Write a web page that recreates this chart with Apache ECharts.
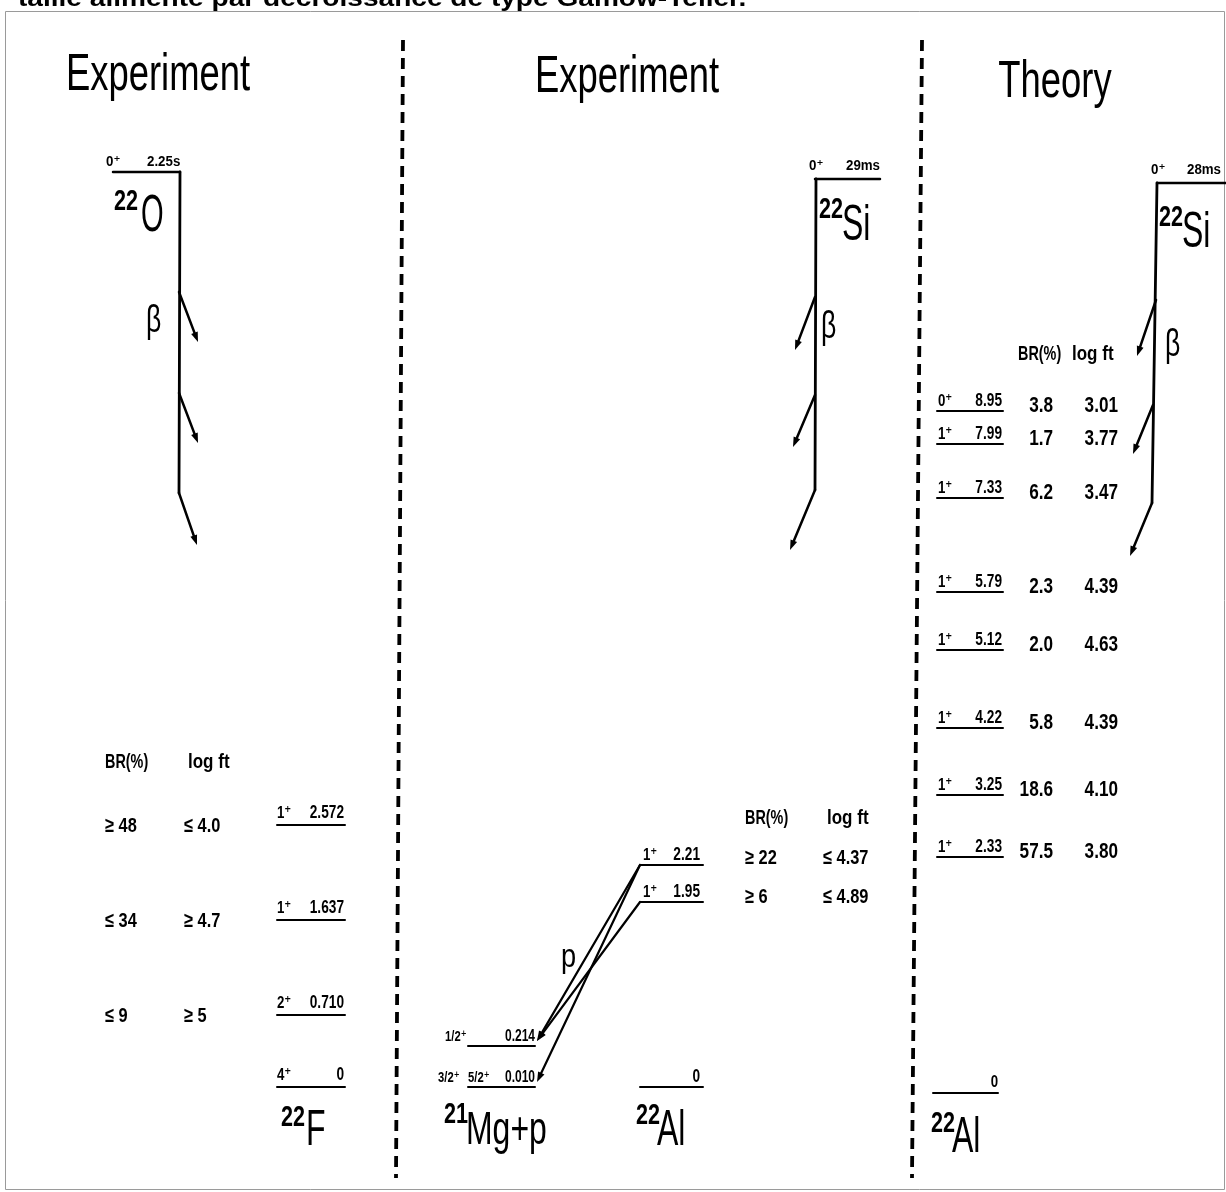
<!DOCTYPE html>
<html><head><meta charset="utf-8">
<script src="https://cdn.jsdelivr.net/npm/echarts@6/dist/echarts.min.js"></script>
<style>html,body{margin:0;padding:0;background:#fff}#c{width:1226px;height:1192px}</style>
</head><body><div id="c"></div>
<script>
// ================= DATA =================
const headerText = 'taille alimenté par décroissance de type Gamow-Teller.';
const panelTitles = ['Experiment', 'Experiment', 'Theory'];

// 22O -> 22F (experiment)
const o22Parent = { spin: '0⁺', halfLife: '2.25s', mass: '22', symbol: 'O' };
const f22Spins = ['1⁺', '1⁺', '2⁺', '4⁺'];
const f22Energies = ['2.572', '1.637', '0.710', '0'];
const f22BR = ['≥ 48', '≤ 34', '≤ 9'];
const f22LogFt = ['≤ 4.0', '≥ 4.7', '≥ 5'];
const f22Daughter = { mass: '22', symbol: 'F' };

// 22Si -> 22Al -> 21Mg+p (experiment)
const si22ExpParent = { spin: '0⁺', halfLife: '29ms', mass: '22', symbol: 'Si' };
const al22ExpSpins = ['1⁺', '1⁺', ''];
const al22ExpEnergies = ['2.21', '1.95', '0'];
const al22ExpBR = ['≥ 22', '≥ 6'];
const al22ExpLogFt = ['≤ 4.37', '≤ 4.89'];
const mg21Spins = ['1/2⁺', '5/2⁺'];
const mg21ExtraSpin = '3/2⁺';
const mg21Energies = ['0.214', '0.010'];
const protonTransitions = [[0, 0], [0, 1], [1, 0]]; // [22Al level, 21Mg level]
const al22Daughter = { mass: '22', symbol: 'Al' };
const mg21Final = { mass: '21', symbol: 'Mg+p' };

// 22Si -> 22Al (theory)
const si22ThParent = { spin: '0⁺', halfLife: '28ms', mass: '22', symbol: 'Si' };
const al22ThSpins = ['0⁺', '1⁺', '1⁺', '1⁺', '1⁺', '1⁺', '1⁺', '1⁺'];
const al22ThEnergies = ['8.95', '7.99', '7.33', '5.79', '5.12', '4.22', '3.25', '2.33'];
const al22ThBR = ['3.8', '1.7', '6.2', '2.3', '2.0', '5.8', '18.6', '57.5'];
const al22ThLogFt = ['3.01', '3.77', '3.47', '4.39', '4.63', '4.39', '4.10', '3.80'];
const al22ThGround = '0';
const tableHeads = ['BR(%)', 'log ft'];
const betaLabel = 'β', protonLabel = 'p';

// ================= LAYOUT =================
const layout = {
  f22LineY: [825, 920, 1015, 1087],
  alExpLineY: [865, 902, 1087],
  mgLineY: [1046, 1087],
  alExpRowY: [858, 897],
  thLineY: [411, 444, 498, 592, 650, 728, 795, 857],
  thGroundY: 1093
};

const segs = [];   // [x1,y1,x2,y2,width,arrow]
const texts = [];  // specs
const textPos = [];
function seg(x1, y1, x2, y2, w, arrow) { segs.push([x1, y1, x2, y2, w || 2, arrow ? 1 : 0]); }
function txt(x, y, t, o) {
  texts.push(Object.assign({ t: t, size: 20, w: 'bold', sx: 0.78, align: 'left', va: 'middle' }, o || {}));
  textPos.push([x, y]);
}
const TITLE = { size: 52, w: 'normal', sx: 0.7, align: 'center' };
const SYM = { size: 50, w: 'normal', sx: 0.64 };
const MASS = { size: 30, sx: 0.72 };
const SMALL = { size: 14, sx: 0.95 };

// header (cut off at the top)
txt(18, 11, headerText, { size: 24, w: 'bold', sx: 1.17, va: 'bottom' });

// ---------- Panel 1 ----------
txt(158, 76, panelTitles[0], TITLE);
seg(113, 172, 180, 172, 2.5);
txt(106, 162, o22Parent.spin, SMALL);
txt(147, 162, o22Parent.halfLife, SMALL);
txt(114, 202, o22Parent.mass, MASS);
txt(141, 217, o22Parent.symbol, Object.assign({}, SYM, { sx: 0.56, size: 52 }));
seg(180, 172, 179, 493, 2.8);
[[179, 292, 198, 342], [179, 393, 198, 443], [179, 493, 197, 545]].forEach(b => seg(b[0], b[1], b[2], b[3], 2.5, true));
txt(146, 322, betaLabel, { size: 38, w: 'normal', sx: 0.7 });
txt(105, 762, tableHeads[0], { sx: 0.72 });
txt(188, 762, tableHeads[1], { sx: 0.85 });
f22Spins.forEach((s, i) => {
  const y = layout.f22LineY[i];
  seg(277, y, 345, y, 2);
  txt(277, y - 12, s, { size: 17 });
  txt(344, y - 12, f22Energies[i], { size: 19, align: 'right', sx: 0.72 });
  if (i < f22BR.length) {
    txt(105, y + 1, f22BR[i], { size: 21 });
    txt(184, y + 1, f22LogFt[i], { size: 21 });
  }
});
txt(281, 1118, f22Daughter.mass, MASS);
txt(306, 1131, f22Daughter.symbol, SYM);

// ---------- Panel 2 ----------
txt(627, 78, panelTitles[1], TITLE);
seg(815, 179, 880, 179, 2.5);
txt(809, 166, si22ExpParent.spin, SMALL);
txt(846, 166, si22ExpParent.halfLife, SMALL);
txt(819, 210, si22ExpParent.mass, MASS);
txt(842, 226, si22ExpParent.symbol, SYM);
seg(816, 179, 815, 490, 2.8);
[[815, 297, 795, 350], [815, 395, 793, 447], [815, 490, 790, 550]].forEach(b => seg(b[0], b[1], b[2], b[3], 2.5, true));
txt(821, 328, betaLabel, { size: 38, w: 'normal', sx: 0.7 });
al22ExpEnergies.forEach((e, i) => {
  const y = layout.alExpLineY[i];
  seg(640, y, 703, y, 2);
  if (al22ExpSpins[i]) txt(643, y - 10, al22ExpSpins[i], { size: 17 });
  txt(700, y - 10, e, { size: 19, align: 'right', sx: 0.72 });
});
mg21Energies.forEach((e, i) => {
  const y = layout.mgLineY[i];
  seg(468, y, 535, y, 2);
  txt(468 - (i === 0 ? 23 : 0), y - 9, mg21Spins[i], { size: 15, sx: 0.75 });
  txt(535, y - 9, e, { size: 16, align: 'right', sx: 0.75 });
});
txt(438, layout.mgLineY[1] - 9, mg21ExtraSpin, { size: 15, sx: 0.75 });
protonTransitions.forEach(tr => {
  seg(640, layout.alExpLineY[tr[0]], 537, layout.mgLineY[tr[1]] - 5, 2.2, true);
});
txt(561, 958, protonLabel, { size: 34, w: 'normal', sx: 0.8 });
txt(745, 818, tableHeads[0], { sx: 0.72 });
txt(827, 818, tableHeads[1], { sx: 0.85 });
al22ExpBR.forEach((b, i) => {
  txt(745, layout.alExpRowY[i], b, { size: 21 });
  txt(823, layout.alExpRowY[i], al22ExpLogFt[i], { size: 21 });
});
txt(444, 1115, mg21Final.mass, MASS);
txt(466, 1131, mg21Final.symbol, Object.assign({}, SYM, { size: 47, sx: 0.68 }));
txt(636, 1116, al22Daughter.mass, MASS);
txt(657, 1131, al22Daughter.symbol, SYM);

// ---------- Panel 3 ----------
txt(1055, 83, panelTitles[2], TITLE);
seg(1157, 183, 1230, 183, 2.5);
txt(1151, 170, si22ThParent.spin, SMALL);
txt(1187, 170, si22ThParent.halfLife, SMALL);
txt(1159, 218, si22ThParent.mass, MASS);
txt(1182, 233, si22ThParent.symbol, SYM);
seg(1157, 183, 1152, 503, 2.8);
[[1156, 300, 1137, 356], [1153, 405, 1133, 454], [1152, 503, 1130, 556]].forEach(b => seg(b[0], b[1], b[2], b[3], 2.5, true));
txt(1165, 346, betaLabel, { size: 38, w: 'normal', sx: 0.7 });
txt(1018, 354, tableHeads[0], { sx: 0.72 });
txt(1072, 354, tableHeads[1], { sx: 0.85 });
al22ThEnergies.forEach((e, i) => {
  const y = layout.thLineY[i];
  seg(937, y, 1003, y, 2);
  txt(938, y - 10, al22ThSpins[i], { size: 17 });
  txt(1002, y - 10, e, { size: 19, align: 'right', sx: 0.72 });
  txt(1053, y - 5, al22ThBR[i], { size: 22, align: 'right' });
  txt(1118, y - 5, al22ThLogFt[i], { size: 22, align: 'right' });
});
seg(933, layout.thGroundY, 998, layout.thGroundY, 2);
txt(998, layout.thGroundY - 11, al22ThGround, { size: 17, align: 'right' });
txt(931, 1124, al22Daughter.mass, MASS);
txt(952, 1138, al22Daughter.symbol, SYM);

// dashed separators
const dashes = [[403, 40, 396, 1178], [922, 40, 912, 1178]];
// frame
const frame = [[5, 11, 1224, 1189]];

// ================= CHART =================
const chart = echarts.init(document.getElementById('c'), null, { renderer: 'canvas' });
const FONT = '"Liberation Sans", Arial, "DejaVu Sans", sans-serif';
chart.setOption({
  animation: false,
  backgroundColor: '#fff',
  grid: { left: 0, right: 0, top: 0, bottom: 0 },
  xAxis: { type: 'value', min: 0, max: 1226, show: false },
  yAxis: { type: 'value', min: 0, max: 1192, inverse: true, show: false },
  series: [
    {
      type: 'custom', silent: true, clip: false, data: frame,
      renderItem(p, api) {
        const a = api.coord([api.value(0), api.value(1)]), b = api.coord([api.value(2), api.value(3)]);
        return { type: 'rect', shape: { x: a[0] + 0.5, y: a[1] + 0.5, width: b[0] - a[0], height: b[1] - a[1] },
          style: { fill: 'none', stroke: '#9a9a9a', lineWidth: 1 } };
      }
    },
    {
      type: 'custom', silent: true, clip: false, data: dashes,
      renderItem(p, api) {
        const a = api.coord([api.value(0), api.value(1)]), b = api.coord([api.value(2), api.value(3)]);
        return { type: 'line', shape: { x1: a[0], y1: a[1], x2: b[0], y2: b[1] },
          style: { stroke: '#000', lineWidth: 3.8, lineDash: [11, 7] } };
      }
    },
    {
      type: 'custom', silent: true, clip: false, data: segs,
      renderItem(p, api) {
        const a = api.coord([api.value(0), api.value(1)]), b = api.coord([api.value(2), api.value(3)]);
        const w = api.value(4), arrow = api.value(5);
        const children = [];
        let ex = b[0], ey = b[1];
        if (arrow) {
          const dx = b[0] - a[0], dy = b[1] - a[1], L = Math.hypot(dx, dy);
          const ux = dx / L, uy = dy / L, nx = -uy, ny = ux, hl = 10, hw = 3.5;
          children.push({ type: 'polygon', shape: { points: [[b[0], b[1]],
            [b[0] - ux * hl + nx * hw, b[1] - uy * hl + ny * hw],
            [b[0] - ux * hl - nx * hw, b[1] - uy * hl - ny * hw]] }, style: { fill: '#000' } });
          ex = b[0] - ux * hl * 0.6; ey = b[1] - uy * hl * 0.6;
        }
        children.unshift({ type: 'line', shape: { x1: a[0], y1: a[1], x2: ex, y2: ey },
          style: { stroke: '#000', lineWidth: w, lineCap: 'round' } });
        return { type: 'group', children };
      }
    },
    {
      type: 'custom', silent: true, clip: false, data: textPos,
      renderItem(p, api) {
        const s = texts[p.dataIndex];
        const c = api.coord([api.value(0), api.value(1)]);
        return { type: 'text', x: c[0], y: c[1], scaleX: s.sx, originX: 0, originY: 0,
          style: { text: s.t, x: 0, y: 0, font: s.w + ' ' + s.size + 'px ' + FONT, fill: '#000',
            align: s.align, verticalAlign: s.va } };
      }
    }
  ]
});
</script></body></html>
